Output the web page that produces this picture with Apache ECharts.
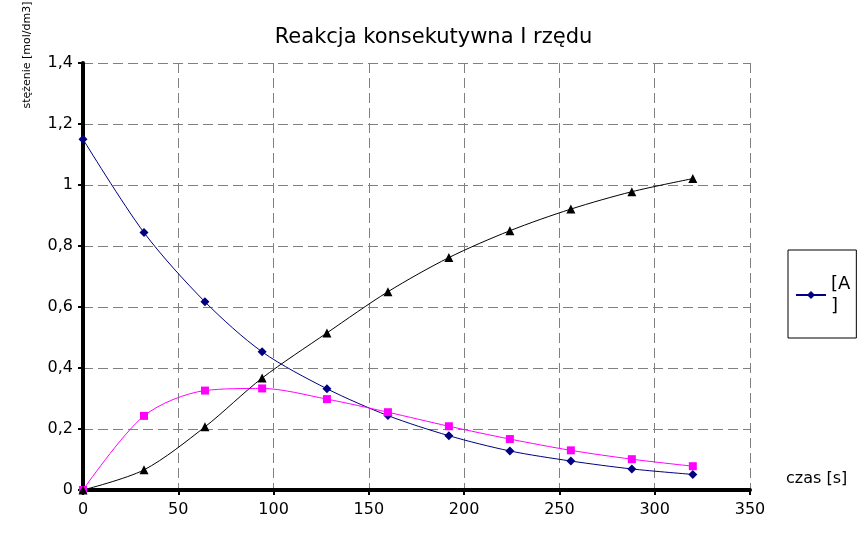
<!DOCTYPE html>
<html><head><meta charset="utf-8">
<script src="https://cdn.jsdelivr.net/npm/echarts@6/dist/echarts.min.js"></script>
<style>html,body{margin:0;padding:0;background:#fff}#c{width:867px;height:548px}</style>
</head><body><div id="c"></div>
<script>
var times = [0, 32, 64, 94, 128, 160, 192, 224, 256, 288, 320];
var seriesA = [1.15, 0.844, 0.617, 0.453, 0.332, 0.244, 0.178, 0.128, 0.095, 0.069, 0.051];
var seriesB = [0, 0.243, 0.326, 0.333, 0.298, 0.255, 0.209, 0.167, 0.130, 0.101, 0.078];
var seriesC = [0, 0.066, 0.207, 0.367, 0.515, 0.650, 0.762, 0.850, 0.921, 0.978, 1.021];
var seriesNames = ['[A]', '[B]', '[C]'];
var titleText = 'Reakcja konsekutywna I rzędu';
var yName = 'stężenie [mol/dm3]';
var xName = 'czas [s]';

function pairs(ys){ return times.map(function(t,i){ return [t, ys[i]]; }); }
var font = 'DejaVu Sans';
var chart = echarts.init(document.getElementById('c'));
chart.setOption({
  animation: false,
  backgroundColor: '#fff',
  textStyle: {fontFamily: font},
  title: {text: titleText, left: 'center', top: 22, textStyle: {fontFamily: font, fontSize: 21, fontWeight: 'normal', color: '#000'}},
  grid: {left: 83, right: 117, top: 63, bottom: 58},
  legend: {
    data: [seriesNames[0]], orient: 'vertical', left: 788, top: 250,
    borderColor: '#000', borderWidth: 1, padding: [23, 6, 21, 7],
    itemWidth: 30, itemHeight: 10, itemGap: 0,
    formatter: function(n){ return '[A\n]'; },
    textStyle: {fontFamily: font, fontSize: 18, color: '#000', lineHeight: 22}
  },
  xAxis: {
    type: 'value', min: 0, max: 350, interval: 50,
    axisLine: {lineStyle: {color: '#000', width: 4}},
    axisTick: {show: true, length: 5, lineStyle: {color: '#000', width: 2}},
    axisLabel: {color: '#000', fontSize: 16, fontFamily: font, margin: 12},
    splitLine: {show: true, lineStyle: {color: '#808080', type: [10, 5], width: 1}}
  },
  yAxis: {
    type: 'value', min: 0, max: 1.4, interval: 0.2,
    axisLine: {show: true, lineStyle: {color: '#000', width: 4}},
    axisTick: {show: true, length: 5, lineStyle: {color: '#000', width: 2}},
    axisLabel: {color: '#000', fontSize: 16, fontFamily: font, margin: 10,
      formatter: function(v){ return String(Math.round(v*10)/10).replace('.', ','); }},
    splitLine: {show: true, lineStyle: {color: '#808080', type: [10, 5], width: 1}}
  },
  graphic: [
    {type: 'text', x: 27, y: 55, rotation: Math.PI/2,
     style: {text: yName, fontFamily: font, fontSize: 11, fill: '#000', align: 'center', verticalAlign: 'middle'}},
    {type: 'text', x: 786, y: 479,
     style: {text: xName, fontFamily: font, fontSize: 16, fill: '#000', align: 'left', verticalAlign: 'middle'}}
  ],
  series: [
    {name: seriesNames[0], type: 'line', smooth: 0.3, data: pairs(seriesA),
     symbol: 'diamond', symbolSize: 9, color: '#000080',
     lineStyle: {width: 1, color: '#000080'}, itemStyle: {color: '#000080'}},
    {name: seriesNames[1], type: 'line', smooth: 0.3, data: pairs(seriesB),
     symbol: 'rect', symbolSize: 8, color: '#ff00ff',
     lineStyle: {width: 1, color: '#ff00ff'}, itemStyle: {color: '#ff00ff'}},
    {name: seriesNames[2], type: 'line', smooth: 0.3, data: pairs(seriesC),
     symbol: 'triangle', symbolSize: 9, color: '#000',
     lineStyle: {width: 1, color: '#000'}, itemStyle: {color: '#000'}}
  ]
});
</script></body></html>
